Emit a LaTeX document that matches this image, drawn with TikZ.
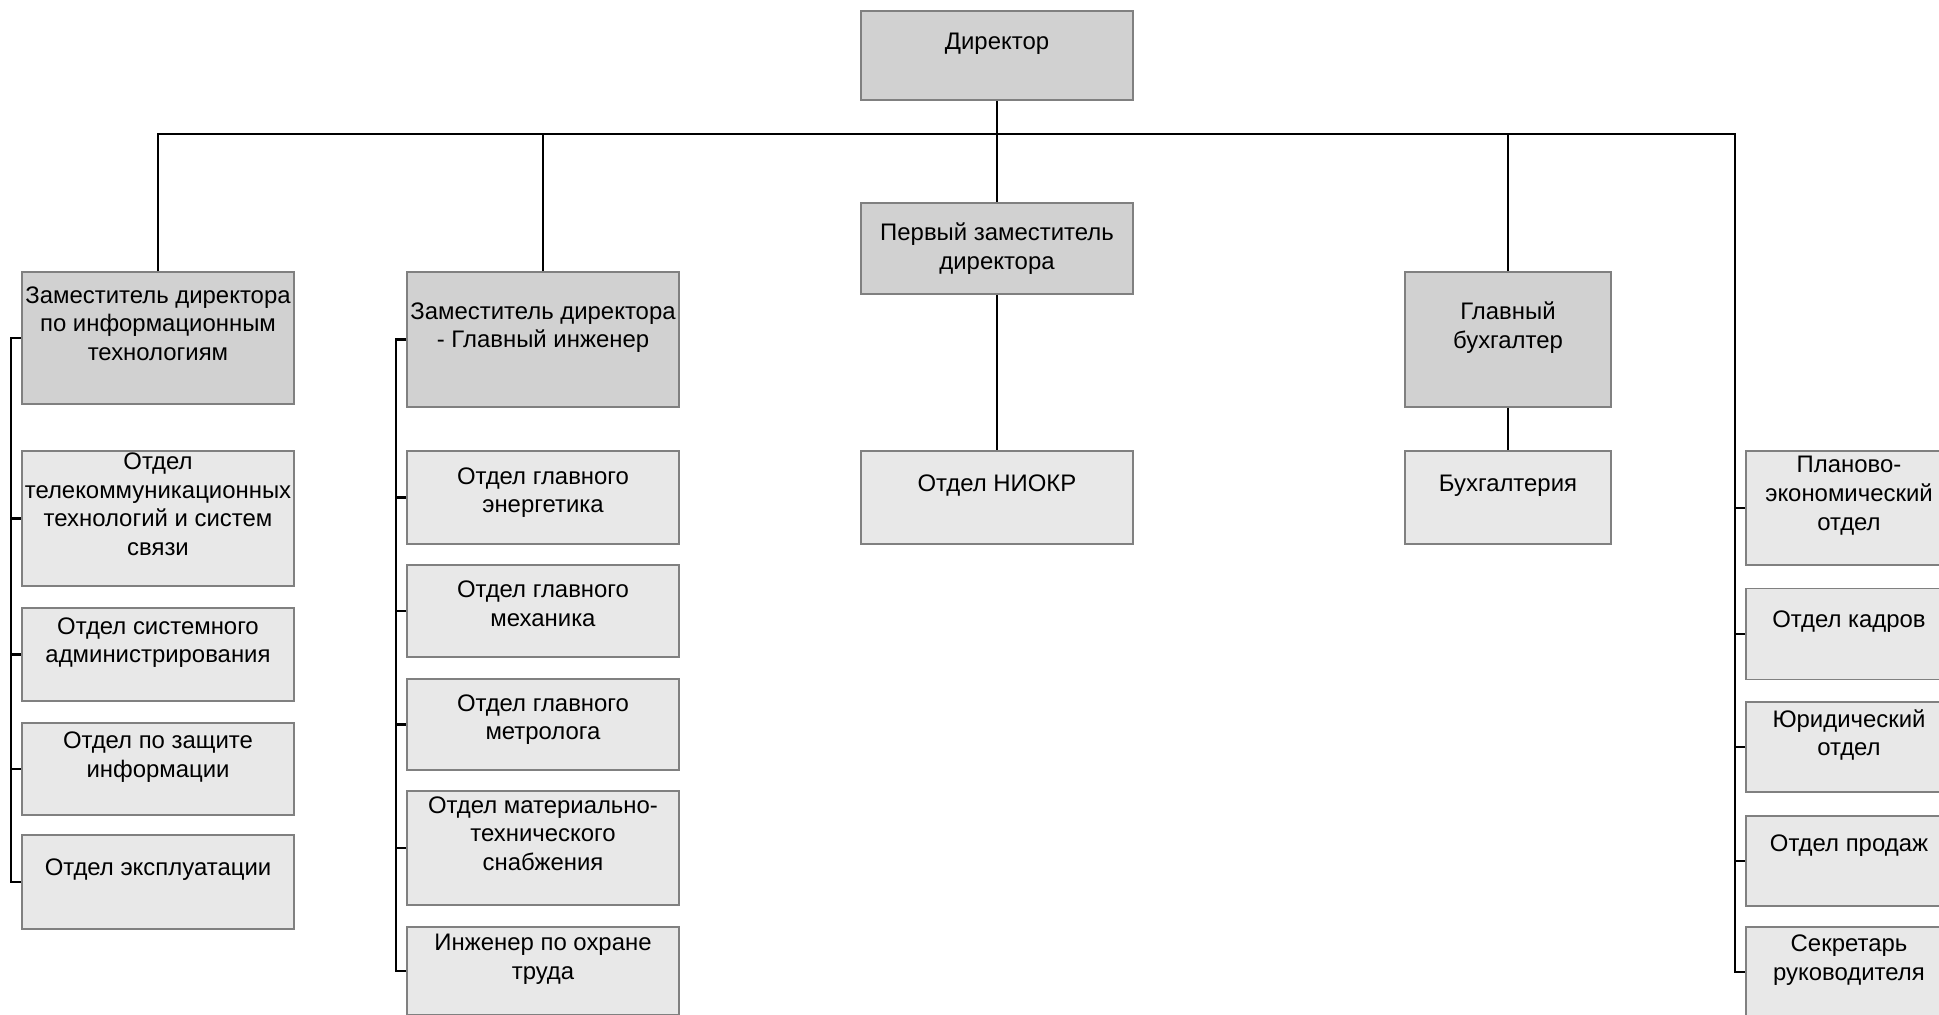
\documentclass[tikz,border=0pt]{standalone}
\usepackage{fontspec}
\setmainfont{Liberation Sans}

\begin{document}
\begin{tikzpicture}[x=0.01cm, y=-0.01cm,
  box/.style={draw=black!50, line width=0.5pt, align=center, inner sep=0pt,
    font=\fontsize{6.8}{8.2}\selectfont},
  head/.style={box, fill=black!18},
  dept/.style={box, fill=black!9},
  wide/.style={minimum width=2.72cm},
  slim/.style={minimum width=2.06cm},
  link/.style={line width=0.6pt}]
\fill[white] (0,0) rectangle (1939,1015);
\useasboundingbox (0,0) rectangle (1939,1015);

\node[head, wide, minimum height=0.89cm] (dir) at (997,55.5) {Директор\\~};
\node[head, wide, minimum height=0.91cm] (dep1) at (997,248.5) {Первый заместитель\\директора};
\node[dept, wide, minimum height=0.93cm] (niokr) at (997,497.5) {Отдел НИОКР\\~};
\node[head, wide, minimum height=1.32cm] (zit) at (158,338) {Заместитель директора\\по информационным\\технологиям\\~};
\node[head, wide, minimum height=1.35cm] (zgi) at (543,339.5) {Заместитель директора\\- Главный инженер\\~};
\node[head, slim, minimum height=1.35cm] (gb) at (1508,339.5) {Главный\\бухгалтер\\~};
\node[dept, slim, minimum height=0.93cm] (buh) at (1508,497.5) {Бухгалтерия\\~};

\node[dept, wide, minimum height=1.35cm] (tel) at (158,518.5) {Отдел\\телекоммуникационных\\технологий и систем\\связи\\~};
\node[dept, wide, minimum height=0.93cm] (sys) at (158,654.5) {Отдел системного\\администрирования\\~};
\node[dept, wide, minimum height=0.92cm] (zash) at (158,769) {Отдел по защите\\информации\\~};
\node[dept, wide, minimum height=0.94cm] (expl) at (158,882) {Отдел эксплуатации\\~};

\node[dept, wide, minimum height=0.93cm] (energ) at (543,497.5) {Отдел главного\\энергетика\\[-4pt]~};
\node[dept, wide, minimum height=0.92cm] (mech) at (543,611) {Отдел главного\\механика\\[-4pt]~};
\node[dept, wide, minimum height=0.91cm] (metr) at (543,724.5) {Отдел главного\\метролога\\[-4pt]~};
\node[dept, wide, minimum height=1.14cm] (snab) at (543,848) {Отдел материально-\\технического\\снабжения\\~};
\node[dept, wide, minimum height=0.88cm] (ohr) at (543,971) {Инженер по охране\\труда\\~};

\node[dept, slim, minimum height=1.14cm] (plan) at (1849,508) {Планово-\\экономический\\отдел\\~};
\node[dept, slim, minimum height=0.91cm] (kadr) at (1849,634) {Отдел кадров\\~};
\node[dept, slim, minimum height=0.90cm] (yur) at (1849,747) {Юридический\\отдел\\~};
\node[dept, slim, minimum height=0.90cm] (prod) at (1849,861) {Отдел продаж\\[2pt]~};
\node[dept, slim, minimum height=0.90cm] (sekr) at (1849,972) {Секретарь\\руководителя\\~};

\coordinate (bus) at (997,134);
\draw[link] (dir) -- (dep1) -- (niokr);
\draw[link] (zit) |- (bus) -| (gb);
\draw[link] (zgi) -- (zgi |- bus);
\draw[link] (gb) -- (buh);
\draw[link] (bus) -| ([xshift=-0.1cm]sekr.west) -- (sekr.west);
\foreach \n in {plan,kadr,yur,prod}
  \draw[link] (\n.west) -- ++(-10,0);
\draw[link] (zit.west) -- ++(-10,0) coordinate (lt) |- (expl.west);
\foreach \n in {tel,sys,zash}
  \draw[link] (lt) |- (\n.west);
\draw[link] (zgi.west) -- ++(-10,0) coordinate (ct) |- (ohr.west);
\foreach \n in {energ,mech,metr,snab}
  \draw[link] (ct) |- (\n.west);
\end{tikzpicture}
\end{document}
